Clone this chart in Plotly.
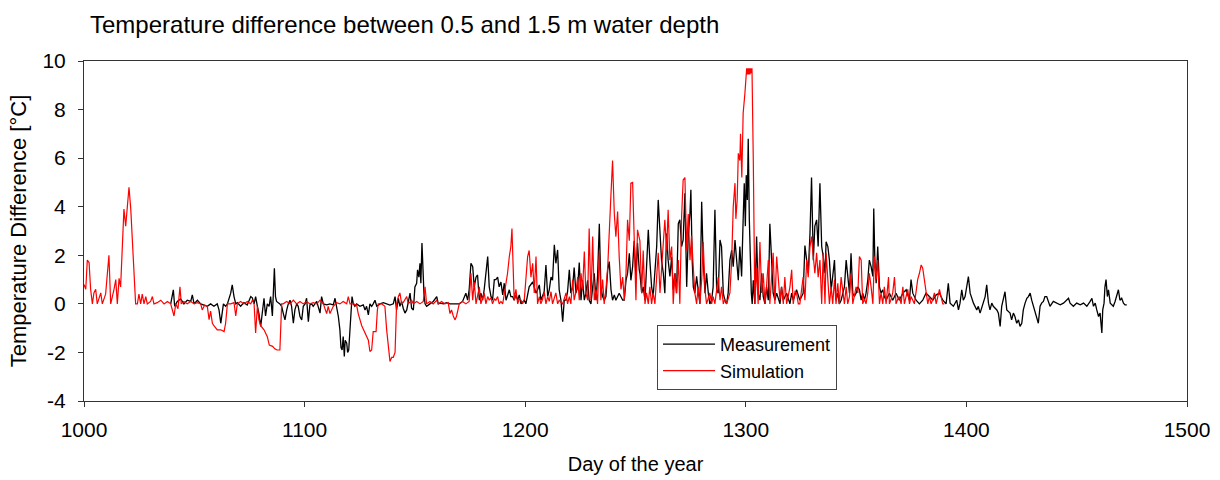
import plotly.graph_objects as go

title_text = "Temperature difference between 0.5 and 1.5 m water depth"
x_title = "Day of the year"
y_title = "Temperature Difference [°C]"
series_names = ["Measurement", "Simulation"]
x_ticks = [1000, 1100, 1200, 1300, 1400, 1500]
y_ticks = [-4, -2, 0, 2, 4, 6, 8, 10]

sim_day = [
    1000.0, 1000.8, 1001.5, 1002.3, 1003.0, 1003.8, 1004.5, 1005.3, 1006.0, 1007.6, 1008.3, 1009.8,
    1011.3, 1012.1, 1013.6, 1014.4, 1015.1, 1015.9, 1016.6, 1017.4, 1018.1, 1018.9, 1019.6, 1020.4,
    1021.2, 1021.9, 1022.7, 1023.4, 1024.2, 1024.9, 1025.7, 1026.4, 1027.2, 1028.0, 1028.7, 1030.2,
    1031.0, 1031.7, 1033.2, 1034.8, 1036.3, 1037.8, 1039.3, 1040.8, 1041.6, 1042.6, 1043.5, 1044.1,
    1045.3, 1046.8, 1048.4, 1049.9, 1051.4, 1052.9, 1053.6, 1054.7, 1055.9, 1056.7, 1057.4, 1058.2,
    1058.9, 1060.4, 1062.0, 1063.5, 1064.2, 1065.0, 1066.5, 1068.0, 1068.8, 1069.5, 1071.0, 1072.5,
    1074.0, 1075.6, 1076.3, 1077.1, 1077.8, 1078.6, 1079.3, 1080.1, 1081.6, 1083.1, 1084.0, 1085.5,
    1086.5, 1087.5, 1088.8, 1089.3, 1089.6, 1090.3, 1091.9, 1093.4, 1094.9, 1096.4, 1097.9, 1099.4,
    1100.9, 1102.4, 1103.9, 1105.5, 1107.0, 1108.5, 1110.0, 1110.7, 1111.5, 1113.0, 1114.5, 1116.0,
    1117.5, 1119.1, 1119.8, 1120.6, 1122.1, 1123.6, 1124.3, 1125.9, 1127.4, 1128.9, 1129.6, 1130.4,
    1131.1, 1132.4, 1133.0, 1133.4, 1134.9, 1136.4, 1137.2, 1138.0, 1138.7, 1139.5, 1140.2, 1141.0,
    1141.7, 1142.5, 1143.2, 1144.0, 1144.7, 1146.3, 1147.0, 1148.5, 1149.3, 1150.8, 1152.3, 1153.8,
    1154.6, 1155.3, 1156.8, 1158.3, 1159.9, 1160.6, 1162.1, 1163.6, 1165.1, 1165.9, 1166.6, 1167.4,
    1168.2, 1168.9, 1169.7, 1170.1, 1171.6, 1173.1, 1174.6, 1175.4, 1176.2, 1176.9, 1177.7, 1178.4,
    1179.2, 1179.9, 1180.7, 1181.4, 1182.2, 1183.0, 1183.7, 1184.5, 1185.2, 1186.0, 1186.7, 1187.5,
    1188.2, 1189.0, 1189.8, 1190.5, 1191.3, 1192.0, 1192.8, 1193.5, 1194.0, 1194.6, 1195.0, 1195.8,
    1196.6, 1197.3, 1198.1, 1198.8, 1199.6, 1200.3, 1201.1, 1201.8, 1202.6, 1203.4, 1204.1, 1204.9,
    1205.6, 1206.4, 1207.1, 1207.9, 1208.6, 1209.4, 1210.2, 1210.9, 1211.7, 1212.4, 1213.2, 1213.9,
    1214.7, 1215.4, 1217.0, 1217.7, 1218.5, 1219.2, 1220.0, 1220.7, 1221.5, 1222.2, 1223.0, 1223.8,
    1224.5, 1225.3, 1226.0, 1226.8, 1227.5, 1228.3, 1229.0, 1229.8, 1230.6, 1231.3, 1232.1, 1232.8,
    1233.6, 1234.3, 1235.1, 1235.8, 1236.6, 1237.4, 1238.1, 1238.9, 1239.6, 1240.4, 1241.1, 1241.9,
    1242.6, 1243.4, 1244.2, 1244.9, 1245.7, 1246.4, 1247.2, 1247.9, 1248.7, 1249.4, 1250.2, 1250.9,
    1251.7, 1252.0, 1252.8, 1253.5, 1254.3, 1255.0, 1255.8, 1256.5, 1257.3, 1258.0, 1258.8, 1259.6,
    1260.3, 1261.1, 1261.8, 1262.6, 1263.3, 1264.1, 1264.8, 1265.6, 1266.4, 1267.1, 1267.9, 1268.6,
    1269.4, 1270.1, 1270.9, 1271.6, 1272.4, 1273.2, 1273.9, 1274.7, 1275.4, 1276.2, 1276.9, 1277.7,
    1278.4, 1279.2, 1280.0, 1280.7, 1281.5, 1282.2, 1283.0, 1283.7, 1284.5, 1285.2, 1286.0, 1286.8,
    1287.5, 1288.3, 1289.0, 1289.8, 1290.5, 1291.3, 1292.0, 1292.8, 1293.6, 1294.3, 1295.1, 1295.5,
    1296.1, 1296.6, 1297.3, 1297.6, 1298.2, 1298.8, 1299.6, 1300.1, 1300.4, 1300.7, 1301.0, 1301.3,
    1301.6, 1301.9, 1302.2, 1302.5, 1302.8, 1303.4, 1304.1, 1304.9, 1305.6, 1306.4, 1307.2, 1307.9,
    1308.7, 1309.4, 1310.2, 1310.9, 1311.7, 1312.4, 1313.2, 1314.0, 1314.7, 1315.5, 1316.2, 1317.0,
    1317.7, 1318.5, 1319.2, 1320.0, 1320.8, 1321.5, 1322.3, 1323.0, 1323.8, 1324.5, 1325.3, 1326.0,
    1326.8, 1327.6, 1328.3, 1329.1, 1329.8, 1330.6, 1331.3, 1332.1, 1332.8, 1333.6, 1334.4, 1335.1,
    1335.9, 1336.4, 1337.2, 1337.9, 1338.7, 1339.4, 1340.2, 1340.9, 1341.7, 1342.4, 1343.2, 1344.0,
    1344.7, 1345.5, 1346.2, 1347.0, 1347.7, 1348.5, 1349.2, 1350.0, 1350.8, 1351.5, 1352.3, 1353.0,
    1353.8, 1354.5, 1355.3, 1356.0, 1356.8, 1357.6, 1358.3, 1359.1, 1359.8, 1360.6, 1361.3, 1362.1,
    1362.8, 1363.6, 1364.7, 1365.1, 1365.9, 1366.6, 1367.4, 1368.1, 1368.9, 1369.6, 1370.4, 1371.2,
    1371.9, 1372.7, 1373.4, 1374.2, 1374.9, 1375.7, 1376.4, 1377.2, 1377.9, 1378.7, 1379.5, 1380.2,
    1381.0, 1381.7, 1382.5, 1383.2, 1384.0, 1384.8, 1385.5, 1386.3, 1387.0, 1387.8, 1388.5, 1389.3,
    1390.0,
]
sim_val = [
    0.8, 0.6, 1.8, 1.7, 0.6, 0.0, 0.45, 0.6, 0.0, 0.45, 0.0, 0.4,
    2.0, 0.0, 0.6, 1.0, 0.0, 1.05, 0.7, 2.2, 3.9, 3.2, 4.1, 4.8,
    3.9, 2.5, 1.1, 0.0, 0.0, 0.4, 0.0, 0.4, 0.0, 0.3, 0.0, 0.1,
    0.3, 0.0, 0.05, 0.15, 0.0, 0.1, 0.0, -0.5, 0.0, -0.2, 0.7, 0.0,
    0.1, 0.0, 0.1, 0.0, 0.05, 0.0, -0.25, -0.05, -0.1, -0.65, -0.3, -0.8,
    -0.9, -1.07, -1.07, -1.14, -0.8, 0.0, 0.0, 0.05, -0.5, 0.0, 0.1, 0.0,
    0.1, 0.0, 0.15, 0.0, -1.2, -0.1, -0.65, -0.9, -1.07, -1.35, -1.7, -1.75,
    -1.85, -1.9, -1.9, -1.0, 0.0, 0.0, 0.1, 0.0, 0.15, 0.0, 0.1, 0.0,
    0.1, 0.0, 0.05, 0.0, 0.15, 0.0, -0.4, -0.1, -0.4, -0.1, 0.05, 0.0,
    0.1, 0.0, 0.3, 0.0, 0.0, -0.05, -0.4, -0.9, -1.2, -1.5, -1.96, -1.9,
    -1.14, -1.14, -0.25, 0.0, 0.0, -0.1, -1.07, -1.9, -2.37, -2.2, -2.2, -2.0,
    0.0, 0.3, 0.45, 0.0, 0.05, 0.3, 0.0, 0.15, 0.0, 0.1, 0.0, 0.1,
    0.7, 0.0, 0.1, 0.0, 0.15, 0.0, 0.1, 0.0, 0.05, -0.4, -0.25, -0.5,
    -0.66, -0.5, -0.1, 0.0, 0.1, 0.0, 0.1, 1.26, 0.15, 0.9, 0.0, 0.3,
    0.7, 0.0, 0.2, 0.45, 0.0, 0.3, 0.15, 0.25, 0.0, 0.2, 0.15, 0.3,
    0.0, 0.1, 0.0, 0.4, 1.0, 1.26, 1.95, 2.36, 3.1, 1.1, 0.15, 0.6,
    0.0, 0.2, 0.15, 0.0, 0.2, 1.0, 1.95, 2.2, 1.1, 1.67, 0.45, 1.95,
    0.0, 0.3, 0.0, 0.2, 0.5, 0.0, 0.3, 0.1, 0.5, 0.0, 0.3, 0.45,
    0.0, 0.15, 0.0, 0.2, 0.45, 0.0, 0.3, 0.0, 1.0, 0.15, 0.5, 1.1,
    0.15, 1.26, 0.6, 2.15, 0.45, 0.15, 3.1, 0.15, 2.77, 0.15, 0.6, 0.0,
    2.2, 0.15, 1.0, 0.0, 0.6, 1.5, 2.7, 4.55, 5.9, 3.7, 2.77, 3.8,
    1.95, 0.6, 1.1, 0.15, 1.26, 3.46, 2.6, 4.97, 5.0, 3.05, 0.15, 3.05,
    2.6, 2.6, 0.45, 2.2, 0.0, 0.45, 0.0, 0.7, 0.0, 0.45, 0.0, 1.0,
    2.1, 0.45, 1.5, 2.36, 3.46, 2.2, 3.87, 1.8, 2.36, 0.0, 1.26, 0.45,
    1.8, 0.0, 3.6, 5.1, 5.2, 2.2, 3.7, 1.8, 2.8, 1.5, 0.45, 0.0,
    0.7, 0.0, 1.0, 2.55, 0.6, 0.0, 0.2, 0.45, 0.0, 0.3, 0.0, 0.5,
    1.1, 0.15, 0.7, 0.0, 0.2, 0.0, 0.2, 0.45, 1.8, 4.0, 4.97, 3.5,
    4.3, 6.2, 5.9, 7.0, 5.2, 7.85, 8.67, 9.35, 9.7, 9.45, 9.7, 9.45,
    9.7, 9.45, 9.7, 9.5, 9.7, 5.9, 0.0, 1.5, 0.0, 2.55, 0.45, 1.26,
    0.0, 0.7, 1.8, 0.0, 1.0, 2.1, 0.0, 1.95, 1.1, 0.15, 0.7, 0.0,
    1.1, 0.0, 0.3, 0.7, 1.4, 0.0, 0.5, 0.45, 0.0, 0.0, 0.6, 1.1,
    0.15, 1.8, 1.1, 2.36, 2.77, 1.8, 1.26, 2.1, 1.1, 1.8, 0.0, 2.1,
    0.0, 2.1, 1.1, 0.0, 0.7, 0.0, 1.0, 0.0, 0.85, 0.0, 1.1, 0.6,
    0.0, 0.7, 0.0, 0.3, 1.26, 0.0, 0.3, 0.7, 0.45, 1.95, 1.8, 0.0,
    0.2, 0.0, 0.45, 1.26, 0.7, 0.0, 1.95, 1.0, 1.8, 0.0, 0.45, 0.0,
    0.7, 0.0, 1.1, 0.0, 0.2, 0.45, 1.1, 0.0, 0.2, 0.3, 0.0, 0.7,
    0.0, 0.3, 0.6, 0.0, 0.3, 0.15, 0.0, 0.5, 1.0, 1.26, 1.6, 1.47,
    1.0, 0.45, 0.0, 0.3, 0.0, 0.2, 0.45, 0.0, 0.3, 0.6, 0.3, 0.0,
    0.0,
]

meas_day = [
    1039.3, 1040.0, 1040.5, 1041.1, 1042.3, 1043.8, 1045.3, 1046.8, 1048.4, 1049.1, 1049.9, 1051.4,
    1052.9, 1054.4, 1055.9, 1057.4, 1058.9, 1060.4, 1061.2, 1062.0, 1062.4, 1063.2, 1064.2, 1065.0,
    1066.5, 1067.2, 1068.0, 1068.8, 1069.5, 1071.0, 1072.5, 1074.0, 1075.6, 1076.3, 1077.1, 1077.8,
    1078.6, 1079.3, 1080.1, 1080.8, 1081.6, 1082.3, 1083.1, 1083.9, 1084.6, 1085.4, 1086.3, 1086.8,
    1087.3, 1088.8, 1089.6, 1090.3, 1091.1, 1091.9, 1092.6, 1093.4, 1094.1, 1094.9, 1095.6, 1096.4,
    1097.1, 1097.9, 1098.7, 1099.4, 1100.2, 1100.9, 1101.7, 1102.4, 1103.2, 1103.9, 1104.7, 1105.5,
    1107.0, 1107.7, 1108.5, 1110.0, 1111.5, 1113.0, 1113.8, 1114.5, 1115.3, 1116.0, 1116.5, 1117.0,
    1117.5, 1118.0, 1118.4, 1119.1, 1119.5, 1120.0, 1120.6, 1121.0, 1121.5, 1122.1, 1122.8, 1123.6,
    1125.1, 1126.6, 1127.4, 1128.1, 1128.9, 1129.6, 1130.4, 1131.1, 1131.9, 1132.7, 1134.2, 1135.7,
    1137.2, 1138.7, 1140.2, 1141.0, 1141.7, 1142.5, 1143.2, 1144.0, 1144.7, 1145.5, 1146.3, 1147.0,
    1147.8, 1148.5, 1149.3, 1150.0, 1150.8, 1151.2, 1151.8, 1152.3, 1152.7, 1153.2, 1153.7, 1154.1,
    1154.6, 1155.3, 1156.8, 1158.3, 1159.9, 1160.6, 1161.4, 1162.9, 1164.4, 1165.9, 1167.4, 1168.9,
    1170.1, 1171.6, 1172.4, 1173.1, 1173.9, 1174.6, 1175.4, 1176.2, 1176.9, 1177.7, 1178.4, 1179.2,
    1179.9, 1180.7, 1181.4, 1182.2, 1183.0, 1183.7, 1184.5, 1185.2, 1186.0, 1186.7, 1187.5, 1188.2,
    1189.0, 1189.8, 1190.5, 1191.3, 1192.8, 1193.5, 1194.3, 1195.0, 1195.8, 1196.6, 1197.3, 1198.1,
    1199.6, 1200.3, 1201.8, 1203.4, 1204.9, 1205.6, 1206.4, 1207.1, 1207.9, 1208.6, 1209.4, 1210.2,
    1210.9, 1211.7, 1212.4, 1213.2, 1213.9, 1214.7, 1215.4, 1216.2, 1217.0, 1217.7, 1218.5, 1219.2,
    1220.0, 1220.7, 1221.5, 1222.2, 1223.0, 1223.8, 1224.5, 1225.3, 1226.0, 1226.8, 1227.5, 1228.3,
    1229.0, 1229.8, 1230.6, 1231.3, 1232.1, 1232.8, 1233.6, 1234.3, 1235.1, 1235.8, 1236.6, 1237.4,
    1238.1, 1238.9, 1239.6, 1240.4, 1241.1, 1242.6, 1244.2, 1244.9, 1245.7, 1246.4, 1247.2, 1247.9,
    1248.7, 1249.4, 1250.2, 1250.9, 1251.7, 1252.0, 1252.8, 1253.5, 1254.3, 1255.0, 1255.8, 1256.5,
    1257.3, 1258.0, 1258.8, 1259.6, 1260.3, 1261.1, 1261.8, 1262.6, 1263.3, 1264.1, 1264.8, 1265.6,
    1266.4, 1267.1, 1267.9, 1268.6, 1269.4, 1270.1, 1270.9, 1271.6, 1272.4, 1273.2, 1273.9, 1274.7,
    1275.1, 1275.7, 1276.2, 1276.9, 1277.7, 1278.4, 1279.2, 1280.0, 1280.7, 1281.5, 1282.2, 1283.0,
    1283.7, 1284.5, 1285.2, 1286.0, 1286.8, 1287.5, 1288.3, 1289.0, 1289.8, 1290.5, 1291.3, 1292.0,
    1292.8, 1293.6, 1294.3, 1295.1, 1295.8, 1296.6, 1297.3, 1298.1, 1298.8, 1299.3, 1299.8, 1300.2,
    1300.7, 1301.1, 1301.6, 1302.0, 1302.5, 1302.9, 1303.4, 1304.1, 1304.9, 1305.6, 1306.4, 1307.2,
    1307.9, 1308.7, 1309.4, 1310.2, 1310.9, 1311.7, 1312.4, 1313.2, 1314.0, 1315.5, 1316.2, 1317.0,
    1318.5, 1320.0, 1320.8, 1321.5, 1323.0, 1324.5, 1326.0, 1326.8, 1327.6, 1328.3, 1329.1, 1329.8,
    1330.6, 1331.3, 1332.1, 1332.8, 1333.6, 1334.4, 1335.1, 1335.9, 1336.4, 1337.2, 1337.9, 1338.7,
    1339.4, 1340.2, 1340.9, 1341.7, 1342.4, 1343.2, 1344.0, 1344.7, 1345.5, 1346.2, 1347.0, 1347.7,
    1348.5, 1349.2, 1350.0, 1350.8, 1351.5, 1352.3, 1353.0, 1353.8, 1354.5, 1355.3, 1356.0, 1356.8,
    1357.6, 1358.0, 1358.5, 1359.1, 1359.8, 1360.6, 1361.3, 1362.1, 1362.8, 1363.6, 1365.1, 1366.6,
    1368.1, 1369.6, 1371.2, 1372.7, 1374.2, 1374.9, 1375.7, 1377.2, 1378.7, 1380.2, 1381.7, 1383.2,
    1384.8, 1386.3, 1387.8, 1389.3, 1390.8, 1391.8, 1392.6, 1394.1, 1395.6, 1396.4, 1397.1, 1397.9,
    1398.6, 1399.4, 1400.2, 1400.9, 1401.7, 1403.2, 1404.7, 1405.4, 1406.2, 1407.7, 1408.5, 1409.2,
    1410.0, 1410.7, 1411.5, 1412.2, 1413.8, 1414.5, 1415.3, 1416.0, 1416.8, 1417.5, 1418.3, 1419.8,
    1420.5, 1421.3, 1422.0, 1422.8, 1423.6, 1424.3, 1425.1, 1425.8, 1426.6, 1427.4, 1428.1, 1428.9,
    1429.6, 1430.4, 1431.9, 1432.6, 1433.4, 1434.1, 1434.9, 1435.6, 1436.4, 1437.2, 1437.9, 1439.4,
    1440.9, 1442.5, 1444.0, 1445.5, 1446.3, 1447.0, 1448.5, 1450.0, 1451.6, 1453.1, 1454.6, 1456.1,
    1456.9, 1457.6, 1458.4, 1459.1, 1459.9, 1460.6, 1461.4, 1461.8, 1462.4, 1462.8, 1463.3, 1463.9,
    1464.4, 1465.2, 1466.6, 1467.4, 1468.1, 1468.9, 1469.6, 1470.4, 1471.2, 1471.9, 1472.7,
]
meas_val = [
    0.0, 0.3, 0.58, -0.1, 0.1, 0.2, 0.0, 0.15, 0.1, 0.37, 0.0, 0.15,
    0.0, -0.05, -0.1, 0.0, -0.1, 0.0, -0.25, -0.8, -0.5, 0.0, -0.1, 0.0,
    0.44, 0.78, 0.3, 0.0, 0.05, -0.1, 0.05, -0.05, 0.3, 0.25, 0.0, 0.3,
    -0.1, -0.4, -0.93, -0.25, 0.23, -0.5, 0.0, -0.1, 0.3, -0.5, 1.47, 0.3,
    0.1, 0.0, -0.1, -0.38, -0.66, -0.25, 0.0, 0.15, -0.1, -0.8, -0.25, 0.0,
    -0.1, -0.52, -0.66, -0.1, 0.0, 0.23, -0.73, -0.04, 0.0, -0.1, 0.0, 0.1,
    -0.38, 0.3, 0.0, -0.04, 0.0, -0.04, 0.23, -0.1, -0.52, -1.07, -1.8, -1.9,
    -1.35, -2.17, -1.5, -1.62, -2.0, -1.9, -1.07, -0.38, 0.3, 0.0, -0.1, 0.0,
    -0.1, -0.04, -0.25, -0.1, -0.45, 0.0, -0.1, 0.0, 0.15, -0.1, 0.0, 0.05,
    0.0, -0.05, 0.0, 0.3, -0.25, 0.23, -0.1, 0.1, -0.18, -0.38, -0.25, 0.15,
    0.44, -0.18, -0.25, 0.7, 0.85, 1.4, 1.1, 1.67, 0.85, 2.5, 0.85, 0.44,
    0.0, -0.1, 0.0, 0.1, 0.3, 0.0, 0.03, 0.0, 0.05, 0.0, 0.0, 0.0,
    0.0, 0.1, 0.3, 0.44, 0.15, 0.58, 1.67, 1.53, 0.7, 1.1, 1.19, 0.15,
    0.44, 0.15, 0.58, 1.26, 1.95, 0.7, 0.3, 0.15, 1.0, 1.0, 1.1, 0.7,
    0.9, 0.37, 0.85, 0.15, 0.58, 0.3, 0.3, 0.15, 0.37, 0.15, 0.37, 0.0,
    0.15, 0.0, 0.7, 0.9, 0.44, 0.58, 0.78, 0.15, 0.37, 0.5, 1.6, 0.3,
    0.58, 1.1, 0.97, 2.43, 1.67, 2.22, 0.58, 0.15, -0.73, 0.15, 0.15, 0.5,
    1.4, 0.44, 0.7, 1.5, 0.44, 0.7, 1.7, 0.15, 0.97, 0.15, 0.44, 0.97,
    0.15, 0.0, 0.7, 1.26, 0.15, 1.13, 3.3, 0.7, 0.3, 0.15, 0.3, 1.4,
    1.74, 0.58, 0.15, 0.37, 0.15, 0.44, 0.15, 0.15, 0.97, 1.26, 2.08, 0.97,
    1.53, 2.6, 1.13, 2.5, 1.4, 1.26, 0.44, 0.7, 0.15, 1.53, 3.05, 1.8,
    0.7, 0.3, 1.26, 2.36, 4.28, 2.63, 1.8, 1.26, 0.44, 2.9, 1.8, 1.13,
    1.94, 0.58, 1.26, 0.44, 3.3, 3.46, 2.36, 2.63, 4.55, 0.7, 2.77, 3.73,
    4.7, 1.8, 0.7, 0.44, 1.13, 0.58, 0.0, 4.2, 1.8, 0.44, 1.26, 0.44,
    0.0, 0.15, 0.7, 3.87, 0.58, 0.44, 2.63, 2.36, 0.44, 0.15, 0.0, 0.44,
    1.8, 2.2, 1.53, 2.63, 1.8, 0.97, 2.36, 1.13, 3.46, 4.97, 3.2, 5.3,
    4.28, 6.8, 3.46, 1.8, 0.44, 0.0, 0.97, 0.0, 2.77, 0.44, 0.15, 1.26,
    0.3, 0.0, 0.7, 0.15, 3.3, 1.8, 0.44, 0.15, 0.44, 0.0, 0.7, 0.15,
    0.44, 0.0, 0.44, 0.15, 0.58, 0.15, 0.44, 2.4, 1.8, 1.26, 2.9, 5.2,
    1.8, 3.2, 3.46, 2.36, 4.97, 2.36, 1.94, 1.26, 2.56, 2.36, 1.8, 0.58,
    1.13, 1.8, 0.15, 0.44, 0.0, 0.15, 0.44, 0.7, 1.8, 1.26, 0.44, 2.08,
    0.44, 0.3, 0.44, 0.7, 0.58, 0.15, 0.44, 0.15, 0.44, 0.97, 1.8, 1.53,
    1.13, 3.93, 1.8, 0.85, 2.36, 0.7, 0.44, 0.58, 0.3, 0.15, 0.44, 0.15,
    0.44, 0.15, 0.44, 0.58, 0.15, 1.0, 0.44, 0.15, 0.0, 0.15, 0.44, 0.3,
    0.15, 0.37, 0.44, 0.15, 0.0, 0.85, 0.03, -0.1, 0.15, -0.25, 0.03, 0.58,
    0.15, 0.3, 0.85, 1.12, 0.44, 0.03, -0.25, -0.1, -0.38, 0.03, 0.3, 0.78,
    0.03, -0.25, 0.03, -0.1, -0.25, -0.38, -0.93, -0.1, 0.3, 0.5, -0.25, -0.38,
    -0.66, -0.38, -0.52, -0.8, -0.66, -0.93, -0.8, -0.25, 0.03, 0.23, 0.3, 0.44,
    0.15, -0.1, -0.52, -0.8, -0.1, 0.03, 0.1, 0.3, 0.3, 0.03, -0.1, 0.1,
    0.03, -0.04, 0.03, 0.15, 0.23, 0.03, -0.1, 0.03, -0.04, 0.03, -0.1, 0.1,
    0.23, -0.1, 0.03, -0.25, -0.52, -0.38, -1.2, -0.25, 0.03, 0.7, 1.0, 0.3,
    0.58, 0.03, -0.1, 0.1, 0.3, 0.58, 0.15, 0.23, 0.03, -0.04, -0.04,
]

FONT = "Liberation Sans, Arial, sans-serif"

fig = go.Figure()
fig.add_trace(go.Scatter(x=meas_day, y=meas_val, mode="lines", name=series_names[0],
                         line=dict(color="#000000", width=1.3)))
fig.add_trace(go.Scatter(x=sim_day, y=sim_val, mode="lines", name=series_names[1],
                         line=dict(color="#ff0000", width=1.2)))

fig.update_layout(
    width=1220, height=480,
    margin=dict(l=84, r=33, t=61, b=79, autoexpand=False),
    paper_bgcolor="white", plot_bgcolor="white",
    font=dict(family=FONT, color="#000000", size=19),
    title=dict(text=title_text, x=90 / 1220, xanchor="left", xref="container",
               y=1 - 25 / 480, yanchor="middle", yref="container",
               font=dict(family=FONT, size=24, color="#000000")),
    showlegend=True,
    legend=dict(x=(657 - 84) / 1103, xanchor="left", y=(401 - 325) / 340, yanchor="top",
                bgcolor="white", bordercolor="#444444", borderwidth=1,
                font=dict(family=FONT, size=18, color="#000000"),
                tracegroupgap=0, itemwidth=52),
    xaxis=dict(range=[1000, 1500], tickvals=x_ticks, ticktext=[str(v) for v in x_ticks],
               showgrid=False, zeroline=False, showline=True, linecolor="#333333", linewidth=1,
               mirror=True, ticks="outside", ticklen=5, tickcolor="#333333",
               tickfont=dict(family=FONT, size=21), ticklabelstandoff=5,
               title=dict(text=x_title, font=dict(family=FONT, size=20), standoff=16)),
    yaxis=dict(range=[-4, 10], tickvals=y_ticks, ticktext=[str(v) for v in y_ticks],
               showgrid=False, zeroline=False, showline=True, linecolor="#333333", linewidth=1,
               mirror=True, ticks="outside", ticklen=5, tickcolor="#333333",
               tickfont=dict(family=FONT, size=21), ticklabelstandoff=8,
               title=dict(text=y_title, font=dict(family=FONT, size=22), standoff=9)),
)

fig.write_html("out.html")
